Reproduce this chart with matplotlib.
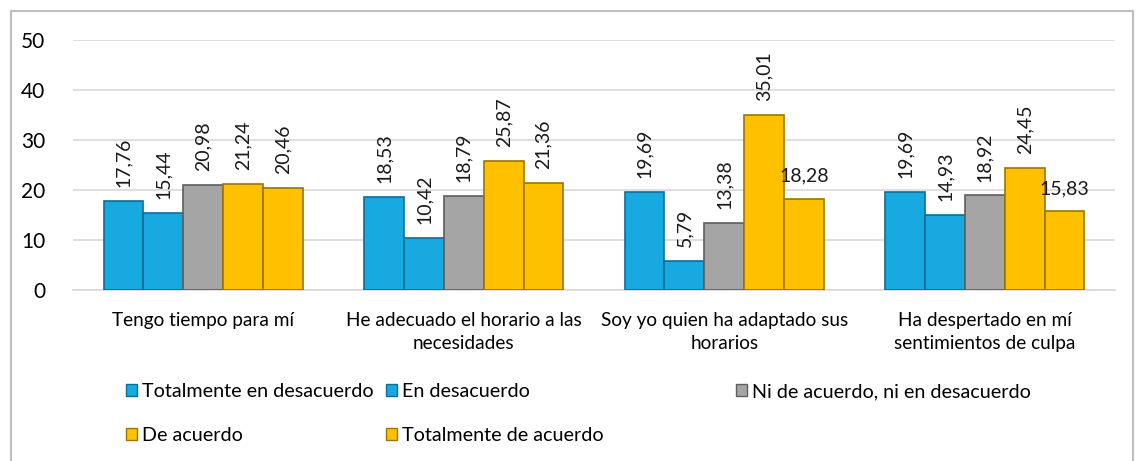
import matplotlib.pyplot as plt
import matplotlib.patches as mpatches
import numpy as np

plt.rcParams['font.family'] = ['Lato', 'DejaVu Sans']

# Data
categories = ['Tengo tiempo para mí', 'He adecuado el horario a las\nnecesidades',
              'Soy yo quien ha adaptado sus\nhorarios', 'Ha despertado en mí\nsentimientos de culpa']
series_names = ['Totalmente en desacuerdo', 'En desacuerdo', 'Ni de acuerdo, ni en desacuerdo',
                'De acuerdo', 'Totalmente de acuerdo']
tot_desacuerdo = [17.76, 18.53, 19.69, 19.69]
en_desacuerdo = [15.44, 10.42, 5.79, 14.93]
ni_ni = [20.98, 18.79, 13.38, 18.92]
de_acuerdo = [21.24, 25.87, 35.01, 24.45]
tot_acuerdo = [20.46, 21.36, 18.28, 15.83]
series = [tot_desacuerdo, en_desacuerdo, ni_ni, de_acuerdo, tot_acuerdo]
# label orientation per series/category (Excel put two of them flat)
label_rot = [[90, 90, 90, 90], [90, 90, 90, 90], [90, 90, 90, 90], [90, 90, 90, 90], [90, 90, 0, 0]]

colors = ['#17A9DF', '#17A9DF', '#A5A5A5', '#FFC000', '#FFC000']
edges = ['#0B6E93', '#0B6E93', '#5E5E5E', '#9C7400', '#9C7400']

fig = plt.figure(figsize=(11.38, 4.61), dpi=100)
ax = fig.add_axes([73/1138, 1-290/461, (1115-73)/1138, 250/461])

x = np.arange(len(categories))
w = 0.153
for i, vals in enumerate(series):
    pos = x + (i - 2) * w
    ax.bar(pos, vals, w, color=colors[i], edgecolor=edges[i], linewidth=1.2,
           label=series_names[i], zorder=3)
    for j, v in enumerate(vals):
        txt = f'{v:.2f}'.replace('.', ',')
        ax.annotate(txt, (pos[j], v), xytext=(0, 10), textcoords='offset points',
                    ha='center', va='bottom', rotation=label_rot[i][j], fontsize=14,
                    color='#1a1a1a', zorder=5)

ax.set_ylim(0, 50)
ax.set_xlim(-0.5, len(categories) - 0.5)
ax.set_yticks(range(0, 51, 10))
ax.yaxis.grid(True, color='#D9D9D9', linewidth=1.2, zorder=0)
ax.set_xticks(x)
ax.set_xticklabels(categories, fontsize=13.7, linespacing=1.38)
ax.tick_params(axis='x', length=0, pad=16)
ax.tick_params(axis='y', length=0, pad=20, labelsize=15)
for s in ['top', 'right', 'left']:
    ax.spines[s].set_visible(False)
ax.spines['bottom'].set_color('#D9D9D9')
ax.spines['bottom'].set_linewidth(1.2)

# legend in three columns, laid out row by row as in Excel
handles = [mpatches.Patch(facecolor=colors[i], edgecolor=edges[i], label=series_names[i]) for i in range(5)]
cols = [([0, 3], 126), ([1, 4], 386), ([2], 736)]
for idx, xpx in cols:
    fig.legend([handles[k] for k in idx], [series_names[k] for k in idx],
               loc='upper left', bbox_to_anchor=(xpx/1138, 1-383/461), frameon=False,
               fontsize=14.2, handlelength=0.55, handleheight=0.55, handletextpad=0.25,
               labelspacing=1.35, borderpad=0, borderaxespad=0)

# chart area border
fig.patches.append(mpatches.Rectangle((11/1138, -0.02), (1133-11)/1138, 1.02-11/461,
                                      transform=fig.transFigure, fill=False,
                                      edgecolor='#BFBFBF', linewidth=1.5))

fig.savefig('out.png', dpi=100)
